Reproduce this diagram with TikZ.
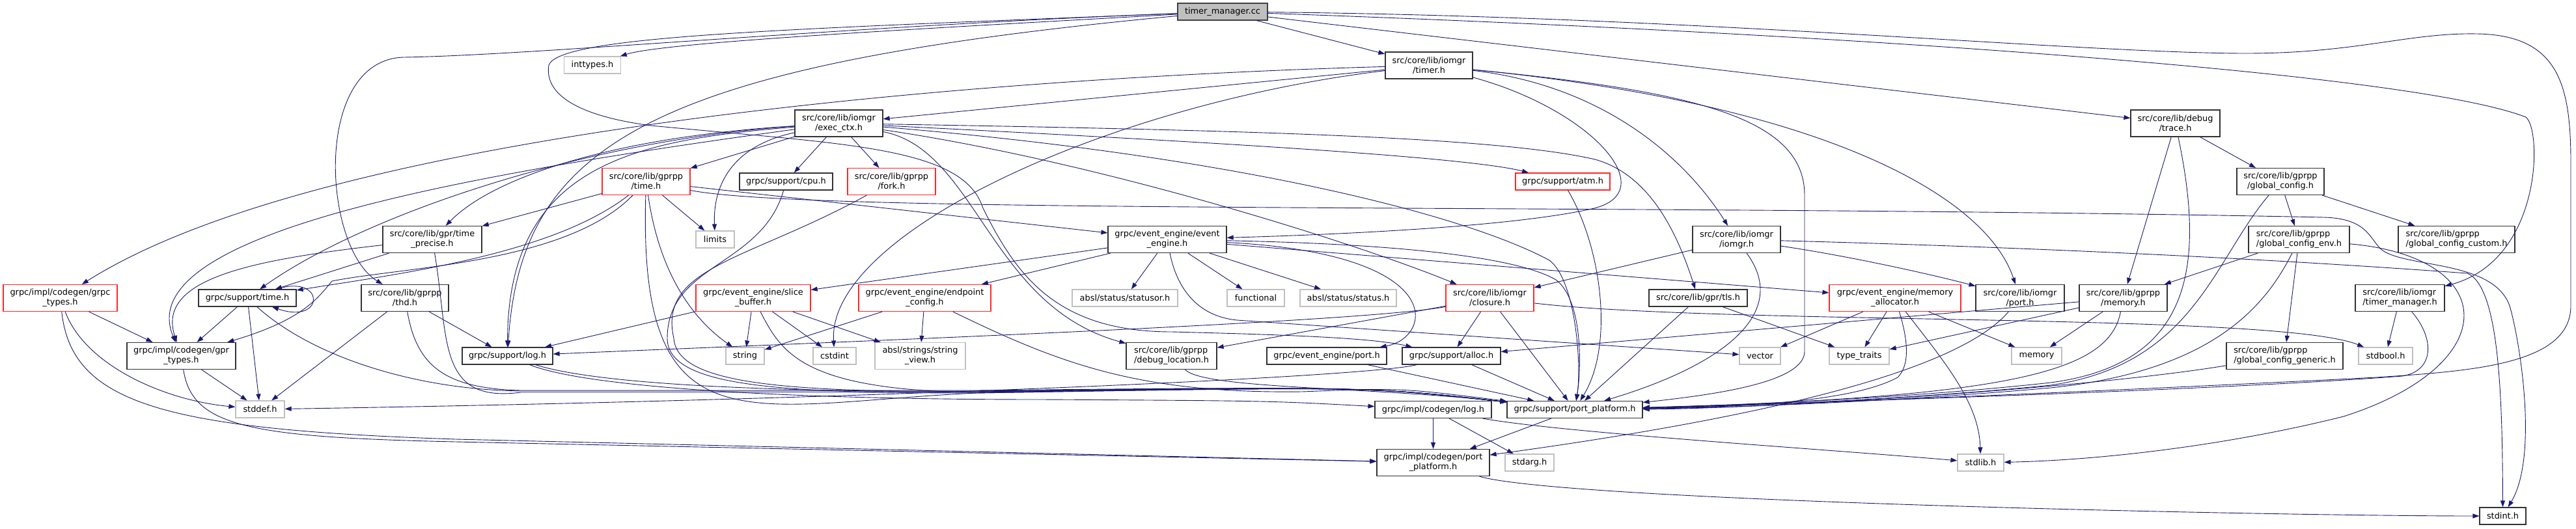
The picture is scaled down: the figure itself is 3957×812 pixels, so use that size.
\documentclass[tikz,border=0pt]{standalone}
\usepackage{fontspec}
\setmainfont{DejaVu Sans}
\usetikzlibrary{arrows.meta}

\definecolor{incblue}{RGB}{25,25,112}
\definecolor{partred}{RGB}{255,40,40}
\definecolor{extgrey}{RGB}{191,191,191}

\begin{document}
\begin{tikzpicture}[x=1pt, y=1pt, font=\fontsize{12.9}{15}\selectfont,
  filebox/.style={rectangle, inner sep=0pt, align=center, line width=1.2pt},
  oneline/.style={minimum height=26pt},
  twoline/.style={minimum height=41pt},
  doc/.style={filebox, draw=black!80},
  part/.style={filebox, draw=partred},
  ext/.style={filebox, draw=extgrey},
  root/.style={filebox, draw=black!75, fill=extgrey},
  dep/.style={draw=incblue, line width=0.9pt, -{Triangle[length=10pt, width=7pt]}}]

  \useasboundingbox (0,0) rectangle (3957,-812);

  \node[root, oneline, minimum width=138pt] (tmcc) at (1878,-18) {timer\_manager.cc};
  \node[ext, oneline, minimum width=87pt] (inttypes) at (910,-100) {inttypes.h};
  \node[doc, twoline, minimum width=134pt] (timerh) at (2195,-100.5) {src/core/lib/iomgr\\/timer.h};
  \node[doc, twoline, minimum width=137pt] (trace) at (3341.5,-189.5) {src/core/lib/debug\\/trace.h};
  \node[doc, twoline, minimum width=135pt] (execctx) at (1288.5,-189.5) {src/core/lib/iomgr\\/exec\_ctx.h};
  \node[part, twoline, minimum width=135pt] (gtime) at (992.5,-279) {src/core/lib/gprpp\\/time.h};
  \node[doc, oneline, minimum width=143pt] (cpu) at (1207.5,-279) {grpc/support/cpu.h};
  \node[part, twoline, minimum width=135pt] (fork) at (1369.5,-279) {src/core/lib/gprpp\\/fork.h};
  \node[part, oneline, minimum width=145pt] (atm) at (2400.5,-279) {grpc/support/atm.h};
  \node[doc, twoline, minimum width=134pt] (gconfig) at (3503,-279) {src/core/lib/gprpp\\/global\_config.h};
  \node[doc, twoline, minimum width=152pt] (timeprec) at (664,-368) {src/core/lib/gpr/time\\\_precise.h};
  \node[ext, oneline, minimum width=59pt] (limits) at (1098.5,-368) {limits};
  \node[doc, twoline, minimum width=182pt] (ee) at (1793,-368) {grpc/event\_engine/event\\\_engine.h};
  \node[doc, twoline, minimum width=135pt] (iomgrh) at (2667.5,-368) {src/core/lib/iomgr\\/iomgr.h};
  \node[doc, twoline, minimum width=155pt, align=left] (gcenv) at (3531.5,-368) {src/core/lib/gprpp\\/global\_config\_env.h};
  \node[doc, twoline, minimum width=179pt, align=left] (gccustom) at (3773.5,-368) {src/core/lib/gprpp\\/global\_config\_custom.h};
  \node[part, twoline, minimum width=175pt] (grpctypes) at (92.5,-458) {grpc/impl/codegen/grpc\\\_types.h};
  \node[doc, oneline, minimum width=150pt] (sptime) at (380,-458) {grpc/support/time.h};
  \node[doc, twoline, minimum width=134pt] (thd) at (622,-458) {src/core/lib/gprpp\\/thd.h};
  \node[part, twoline, minimum width=176pt] (slicebuf) at (1157,-458) {grpc/event\_engine/slice\\\_buffer.h};
  \node[part, twoline, minimum width=203pt] (epconfig) at (1420.5,-458) {grpc/event\_engine/endpoint\\\_config.h};
  \node[ext, oneline, minimum width=162pt] (statusor) at (1728,-458) {absl/status/statusor.h};
  \node[ext, oneline, minimum width=88pt] (functional) at (1929,-458) {functional};
  \node[ext, oneline, minimum width=148pt] (status) at (2071,-458) {absl/status/status.h};
  \node[part, twoline, minimum width=135pt] (closure) at (2288.5,-458) {src/core/lib/iomgr\\/closure.h};
  \node[doc, oneline, minimum width=151pt] (tls) at (2608.5,-458) {src/core/lib/gpr/tls.h};
  \node[part, twoline, minimum width=202pt] (memalloc) at (2911,-458) {grpc/event\_engine/memory\\\_allocator.h};
  \node[doc, twoline, minimum width=136pt] (iomgrport) at (3103,-458) {src/core/lib/iomgr\\/port.h};
  \node[doc, twoline, minimum width=135pt] (gmemory) at (3261.5,-458) {src/core/lib/gprpp\\/memory.h};
  \node[doc, twoline, minimum width=137pt, align=left] (tmh) at (3686.5,-458) {src/core/lib/iomgr\\/timer\_manager.h};
  \node[doc, twoline, minimum width=167pt] (gprtypes) at (278.5,-547) {grpc/impl/codegen/gpr\\\_types.h};
  \node[doc, oneline, minimum width=139pt] (splog) at (779.5,-547) {grpc/support/log.h};
  \node[ext, oneline, minimum width=59pt] (string) at (1144.5,-547) {string};
  \node[ext, oneline, minimum width=66pt] (cstdint) at (1282,-547) {cstdint};
  \node[ext, twoline, minimum width=139pt] (stringview) at (1413.5,-547) {absl/strings/string\\\_view.h};
  \node[doc, twoline, minimum width=139pt, align=left] (debugloc) at (1799.5,-547) {src/core/lib/gprpp\\/debug\_location.h};
  \node[doc, oneline, minimum width=184pt] (eeport) at (2038,-547) {grpc/event\_engine/port.h};
  \node[doc, oneline, minimum width=151pt] (alloc) at (2229.5,-547) {grpc/support/alloc.h};
  \node[ext, oneline, minimum width=63pt] (vector) at (2703.5,-547) {vector};
  \node[ext, oneline, minimum width=92pt] (typetraits) at (2856,-547) {type\_traits};
  \node[ext, oneline, minimum width=77pt] (memory) at (3128.5,-547) {memory};
  \node[doc, twoline, minimum width=179pt, align=left] (gcgeneric) at (3509.5,-547) {src/core/lib/gprpp\\/global\_config\_generic.h};
  \node[ext, oneline, minimum width=83pt] (stdbool) at (3664.5,-547) {stdbool.h};
  \node[ext, oneline, minimum width=75pt] (stddef) at (399.5,-629) {stddef.h};
  \node[doc, oneline, minimum width=179pt] (cglog) at (2201.5,-629.5) {grpc/impl/codegen/log.h};
  \node[doc, oneline, minimum width=208pt] (pp) at (2419,-629.5) {grpc/support/port\_platform.h};
  \node[doc, twoline, minimum width=173pt] (cgpp) at (2201.5,-711) {grpc/impl/codegen/port\\\_platform.h};
  \node[ext, oneline, minimum width=75pt] (stdarg) at (2349.5,-711) {stdarg.h};
  \node[ext, oneline, minimum width=71pt] (stdlib) at (3042.5,-711) {stdlib.h};
  \node[doc, oneline, minimum width=71pt] (stdint) at (3844.5,-793) {stdint.h};

  \draw[dep] (tmcc) .. controls (1400,-45) and (1020,-65) .. (inttypes);
  \draw[dep] (tmcc) .. controls (1300,-40) and (820,-85) .. (620,-88) .. controls (480,-92) and (495,-380) .. (thd);
  \draw[dep] (tmcc) .. controls (1200,-45) and (860,-55) .. (843,-100) .. controls (835,-150) and (900,-180) .. (1000,-193) .. controls (1300,-222) and (1480,-225) .. (1510,-320) .. controls (1560,-420) and (1620,-510) .. (1800,-510) .. controls (2000,-515) and (2110,-520) .. (alloc);
  \draw[dep] (tmcc) .. controls (1000,-100) and (800,-220) .. (splog);
  \draw[dep] (tmcc) -- (timerh);
  \draw[dep] (tmcc) -- (trace);
  \draw[dep] (tmcc) .. controls (2800,-50) and (3700,-110) .. (3880,-180) .. controls (3905,-200) and (3905,-400) .. (tmh);
  \draw[dep] (tmcc) .. controls (2600,-25) and (3200,-82) .. (3450,-82) .. controls (3620,-82) and (3700,-50) .. (3805,-52) .. controls (3930,-54) and (3949,-130) .. (3949,-250) -- (3949,-470) .. controls (3949,-560) and (3800,-570) .. (3650,-580) .. controls (3300,-598) and (2800,-620) .. (pp);

  \draw[dep] (timerh) -- (execctx);
  \draw[dep] (timerh) .. controls (1500,-120) and (500,-200) .. (grpctypes);
  \draw[dep] (timerh) .. controls (1700,-160) and (1270,-360) .. (cstdint);
  \draw[dep] (timerh) .. controls (2450,-170) and (2560,-300) .. (2440,-322) .. controls (2300,-352) and (2000,-362) .. (ee);
  \draw[dep] (timerh) .. controls (2450,-130) and (2580,-230) .. (iomgrh);
  \draw[dep] (timerh) .. controls (2600,-140) and (2772,-180) .. (2772,-300) -- (2772,-540) .. controls (2772,-585) and (2650,-605) .. (pp);
  \draw[dep] (timerh) .. controls (2800,-160) and (3050,-300) .. (iomgrport);

  \draw[dep] (trace) -- (gconfig);
  \draw[dep] (trace) -- (gmemory);
  \draw[dep] (trace) .. controls (3390,-420) and (3360,-560) .. (3150,-588) .. controls (2950,-610) and (2700,-622) .. (pp);

  \draw[dep] (gconfig) -- (gcenv);
  \draw[dep] (gconfig) -- (gccustom);
  \draw[dep] (gconfig) .. controls (3400,-400) and (3370,-560) .. (3150,-592) .. controls (2950,-612) and (2700,-624) .. (pp);
  \draw[dep] (gcenv) -- (gmemory);
  \draw[dep] (gcenv) -- (gcgeneric);
  \draw[dep] (gcenv) .. controls (3480,-470) and (3400,-570) .. (3150,-596) .. controls (2950,-614) and (2700,-626) .. (pp);
  \draw[dep] (gcenv) .. controls (3840,-395) and (3850,-560) .. (3600,-640) .. controls (3400,-690) and (3200,-708) .. (stdlib);
  \draw[dep] (gcgeneric) .. controls (3200,-598) and (2700,-628) .. (pp);

  \draw[dep] (gmemory) -- (memory);
  \draw[dep] (gmemory) -- (typetraits);
  \draw[dep] (gmemory) -- (alloc);
  \draw[dep] (gmemory) .. controls (3240,-570) and (3100,-610) .. (pp);
  \draw[dep] (iomgrport) .. controls (3000,-580) and (2650,-650) .. (cgpp);

  \draw[dep] (memalloc) -- (vector);
  \draw[dep] (memalloc) -- (typetraits);
  \draw[dep] (memalloc) -- (memory);
  \draw[dep] (memalloc) .. controls (2990,-560) and (3040,-620) .. (stdlib);
  \draw[dep] (memalloc) .. controls (2930,-520) and (2935,-560) .. (2915,-580) .. controls (2850,-615) and (2700,-625) .. (pp);

  \draw[dep] (iomgrh) -- (closure);
  \draw[dep] (iomgrh) .. controls (2850,-395) and (2980,-425) .. (iomgrport);
  \draw[dep] (iomgrh) .. controls (3300,-385) and (3650,-410) .. (3790,-420) .. controls (3838,-440) and (3844,-600) .. (stdint);
  \draw[dep] (iomgrh) .. controls (2750,-480) and (2650,-560) .. (pp);

  \draw[dep] (closure) -- (alloc);
  \draw[dep] (closure) -- (pp);
  \draw[dep] (closure) .. controls (2650,-500) and (3500,-480) .. (stdbool);
  \draw[dep] (closure) .. controls (2100,-495) and (1300,-525) .. (splog);
  \draw[dep] (closure) -- (debugloc);

  \draw[dep] (execctx) .. controls (950,-210) and (760,-270) .. (timeprec);
  \draw[dep] (execctx) .. controls (900,-215) and (560,-330) .. (sptime);
  \draw[dep] (execctx) .. controls (700,-270) and (200,-360) .. (gprtypes);
  \draw[dep] (execctx) .. controls (980,-215) and (780,-250) .. (splog);
  \draw[dep] (execctx) -- (gtime);
  \draw[dep] (execctx) -- (cpu);
  \draw[dep] (execctx) -- (fork);
  \draw[dep] (execctx) .. controls (1120,-225) and (1095,-290) .. (limits);
  \draw[dep] (execctx) .. controls (1800,-215) and (2250,-240) .. (atm);
  \draw[dep] (execctx) .. controls (1900,-200) and (2300,-210) .. (2450,-245) .. controls (2540,-270) and (2580,-370) .. (tls);
  \draw[dep] (execctx) .. controls (1500,-230) and (1520,-470) .. (debugloc);
  \draw[dep] (execctx) .. controls (1700,-250) and (2100,-380) .. (closure);
  \draw[dep] (execctx) .. controls (1900,-240) and (2250,-330) .. (2380,-400) .. controls (2420,-430) and (2430,-560) .. (pp);

  \draw[dep] (gtime) -- (timeprec);
  \draw[dep] (gtime) -- (limits);
  \draw[dep] (gtime) .. controls (850,-390) and (620,-420) .. (sptime);
  \draw[dep] (gtime) .. controls (870,-405) and (620,-410) .. (510,-432) .. controls (490,-455) and (470,-490) .. (gprtypes);
  \draw[dep] (gtime) .. controls (1010,-400) and (1050,-480) .. (string);
  \draw[dep] (gtime) .. controls (980,-700) and (1150,-620) .. (1500,-604) .. controls (2100,-594) .. (pp);
  \draw[dep] (gtime) -- (ee);
  \draw[dep] (gtime) .. controls (1250,-330) and (2500,-312) .. (3570,-334) .. controls (3640,-336) and (3640,-370) .. (3660,-385) .. controls (3700,-412) and (3830,-400) .. (3855,-470) .. controls (3870,-520) and (3900,-700) .. (stdint);

  \draw[dep] (timeprec) -- (sptime);
  \draw[dep] (timeprec) .. controls (380,-400) and (240,-430) .. (gprtypes);
  \draw[dep] (timeprec) .. controls (690,-520) and (670,-620) .. (800,-603) -- (1500,-603) .. controls (2100,-594) .. (pp);

  \draw[dep] (thd) -- (stddef);
  \draw[dep] (thd) -- (splog);
  \draw[dep] (thd) .. controls (640,-560) and (680,-597) .. (800,-600) -- (1500,-600) .. controls (2100,-594) .. (pp);

  \draw[dep] (sptime) -- (gprtypes);
  \draw[dep] (sptime) -- (stddef);
  \draw[dep] (sptime) .. controls (470,-540) and (620,-598) .. (800,-601) -- (1500,-601) .. controls (2100,-594) .. (pp);
  \draw[dep] ([xshift=45pt]sptime.north) .. controls (500,-420) and (500,-500) .. ([xshift=38pt]sptime.south);

  \draw[dep] (grpctypes) -- (gprtypes);
  \draw[dep] (grpctypes) .. controls (130,-560) and (250,-615) .. (stddef);
  \draw[dep] (grpctypes) .. controls (110,-620) and (250,-660) .. (700,-675) -- (cgpp);
  \draw[dep] (gprtypes) -- (stddef);
  \draw[dep] (gprtypes) .. controls (295,-655) and (380,-672) .. (700,-679) -- (cgpp);

  \draw[dep] (splog) .. controls (900,-595) and (1200,-614) .. (1600,-614) .. controls (1950,-616) .. (cglog);
  \draw[dep] (splog) .. controls (900,-585) and (1100,-602) .. (1500,-602) .. controls (2100,-594) .. (pp);
  \draw[dep] (cglog) -- (cgpp);
  \draw[dep] (cglog) -- (stdarg);
  \draw[dep] (cglog) .. controls (2400,-665) and (2800,-690) .. (stdlib);
  \draw[dep] (pp) -- (cgpp);
  \draw[dep] (cgpp) .. controls (2400,-770) and (3500,-793) .. (stdint);

  \draw[dep] (ee) -- (slicebuf);
  \draw[dep] (ee) -- (epconfig);
  \draw[dep] (ee) -- (statusor);
  \draw[dep] (ee) -- (functional);
  \draw[dep] (ee) -- (status);
  \draw[dep] (ee) .. controls (2230,-390) and (2200,-520) .. (eeport);
  \draw[dep] (ee) -- (memalloc);
  \draw[dep] (ee) .. controls (1805,-430) and (1830,-485) .. (1900,-492) -- (vector);
  \draw[dep] (ee) .. controls (2150,-375) and (2330,-395) .. (2390,-430) .. controls (2430,-460) and (2430,-560) .. (pp);

  \draw[dep] (slicebuf) -- (string);
  \draw[dep] (slicebuf) -- (cstdint);
  \draw[dep] (slicebuf) -- (stringview);
  \draw[dep] (slicebuf) -- (splog);
  \draw[dep] (slicebuf) .. controls (1200,-540) and (1230,-600) .. (1500,-603) .. controls (2100,-594) .. (pp);
  \draw[dep] (epconfig) -- (string);
  \draw[dep] (epconfig) -- (stringview);
  \draw[dep] (epconfig) .. controls (1630,-560) and (1750,-605) .. (2000,-602) .. controls (2150,-596) .. (pp);

  \draw[dep] (debugloc) .. controls (1850,-598) and (2100,-594) .. (pp);
  \draw[dep] (eeport) -- (pp);
  \draw[dep] (alloc) -- (pp);
  \draw[dep] (alloc) .. controls (2100,-580) and (1300,-615) .. (stddef);
  \draw[dep] (tls) -- (pp);
  \draw[dep] (tls) -- (typetraits);
  \draw[dep] (atm) .. controls (2460,-380) and (2480,-530) .. (pp);
  \draw[dep] (fork) .. controls (1150,-400) and (1010,-410) .. (1035,-520) .. controls (1040,-590) and (1200,-602) .. (1500,-602) .. controls (2100,-594) .. (pp);
  \draw[dep] (cpu) .. controls (1170,-410) and (1025,-405) .. (1025,-520) .. controls (1025,-595) and (1200,-604) .. (1500,-604) .. controls (2100,-594) .. (pp);
  \draw[dep] (tmh) -- (stdbool);
  \draw[dep] (tmh) .. controls (3740,-520) and (3740,-570) .. (3690,-578) .. controls (3400,-600) and (2800,-618) .. (pp);
\end{tikzpicture}
\end{document}
